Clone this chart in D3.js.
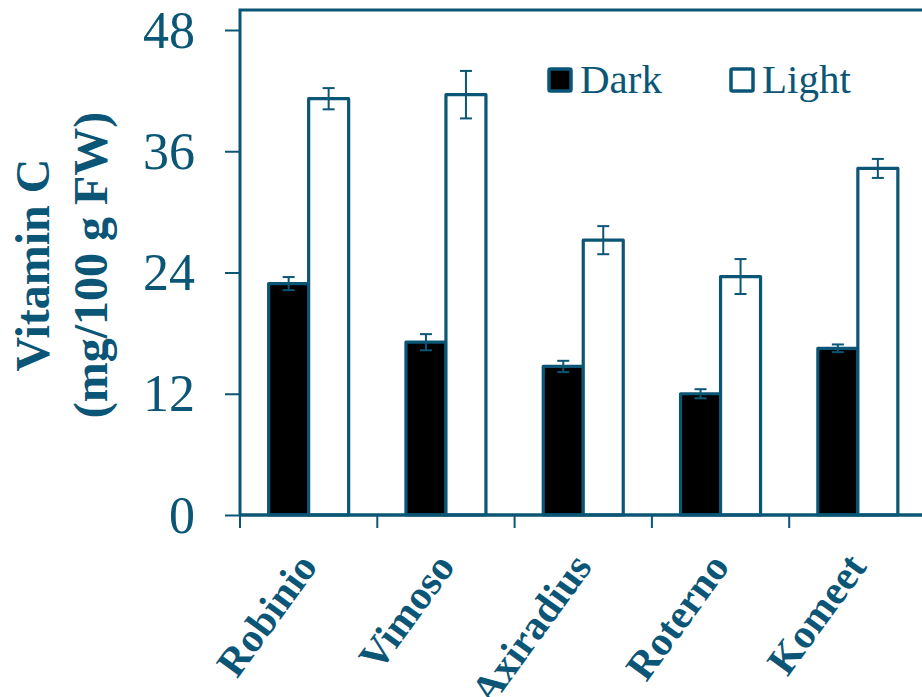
<!DOCTYPE html>
<html>
<head>
<meta charset="utf-8">
<script src="https://cdn.jsdelivr.net/npm/d3@7"></script>
<style>
  body { margin: 0; background: #fff; }
  svg { display: block; }
</style>
</head>
<body>
<div id="chart"></div>
<script>
var cultivars = ['Robinio', 'Vimoso', 'Axiradius', 'Roterno', 'Komeet'];
var seriesNames = ['Dark', 'Light'];
var darkValues = [22.9, 17.1, 14.7, 12.0, 16.5];
var darkErrors = [0.65, 0.8, 0.56, 0.45, 0.38];
var lightValues = [41.2, 41.6, 27.2, 23.6, 34.3];
var lightErrors = [1.05, 2.35, 1.39, 1.73, 0.94];
var yTicks = [0, 12, 24, 36, 48];

var teal = '#0b5676';
var fills = { Dark: '#000', Light: '#fff' };
var serif = '"Times New Roman", Times, "Liberation Serif", Tinos, "Nimbus Roman", serif';

var W = 922, H = 697;
var margin = { top: 10, left: 240 };
var plotRight = 926.5, plotBottom = 515;

var svg = d3.select('#chart')
  .append('svg')
  .attr('width', W)
  .attr('height', H);

// scales
var x = d3.scaleBand()
  .domain(cultivars)
  .range([margin.left, plotRight])
  .padding(0);

var groupW = 80;
var xs = d3.scaleBand()
  .domain(seriesNames)
  .range([0, groupW]);

var y = d3.scaleLinear()
  .domain([0, 48])
  .range([plotBottom, 30]);

// table built from the arrays
var rows = [];
cultivars.forEach(function (c, i) {
  rows.push({ cat: c, s: 'Dark', v: darkValues[i], e: darkErrors[i] });
  rows.push({ cat: c, s: 'Light', v: lightValues[i], e: lightErrors[i] });
});

function barX(d) {
  return x(d.cat) + x.bandwidth() / 2 - groupW / 2 + xs(d.s);
}

// bars
svg.append('g')
  .selectAll('rect')
  .data(rows)
  .enter()
  .append('rect')
  .attr('x', barX)
  .attr('y', function (d) { return y(d.v); })
  .attr('width', xs.bandwidth())
  .attr('height', function (d) { return y(0) - y(d.v); })
  .attr('fill', function (d) { return fills[d.s]; })
  .attr('stroke', teal)
  .attr('stroke-width', 3.2)
  .attr('stroke-linejoin', 'round');

// error bars
var eb = svg.append('g')
  .selectAll('g')
  .data(rows)
  .enter()
  .append('g')
  .attr('stroke', teal)
  .attr('stroke-width', 2);

eb.append('line')
  .attr('x1', function (d) { return barX(d) + xs.bandwidth() / 2; })
  .attr('x2', function (d) { return barX(d) + xs.bandwidth() / 2; })
  .attr('y1', function (d) { return y(d.v + d.e); })
  .attr('y2', function (d) { return y(d.v - d.e); });

[1, -1].forEach(function (sgn) {
  eb.append('line')
    .attr('x1', function (d) { return barX(d) + xs.bandwidth() / 2 - 6; })
    .attr('x2', function (d) { return barX(d) + xs.bandwidth() / 2 + 6; })
    .attr('y1', function (d) { return y(d.v + sgn * d.e); })
    .attr('y2', function (d) { return y(d.v + sgn * d.e); });
});

// y axis
var gy = svg.append('g')
  .attr('transform', 'translate(' + margin.left + ',0)')
  .call(d3.axisLeft(y).tickValues(yTicks).tickSize(15).tickSizeOuter(0).tickPadding(30));
gy.select('.domain').remove();
gy.selectAll('.tick line').attr('stroke', teal).attr('stroke-width', 2);
gy.selectAll('.tick text')
  .attr('fill', teal)
  .attr('font-family', serif)
  .attr('font-size', 52)
  .attr('dy', '0.33em');

// x axis ticks at category boundaries
var bounds = cultivars.map(function (c) { return x(c); }).concat([plotRight]);
svg.append('g')
  .selectAll('line')
  .data(bounds)
  .enter()
  .append('line')
  .attr('x1', function (d) { return d; })
  .attr('x2', function (d) { return d; })
  .attr('y1', plotBottom)
  .attr('y2', plotBottom + 13)
  .attr('stroke', teal)
  .attr('stroke-width', 2);

// frame lines
svg.append('path')
  .attr('d', 'M' + margin.left + ',' + plotBottom + 'V' + margin.top + 'H' + (plotRight + 10))
  .attr('fill', 'none')
  .attr('stroke', teal)
  .attr('stroke-width', 3);
svg.append('line')
  .attr('x1', margin.left).attr('x2', plotRight + 10)
  .attr('y1', plotBottom).attr('y2', plotBottom)
  .attr('stroke', teal)
  .attr('stroke-width', 3.5);

// category labels
svg.append('g')
  .selectAll('text')
  .data(cultivars)
  .enter()
  .append('text')
  .attr('transform', function (d) {
    return 'translate(' + (x(d) + x.bandwidth() / 2 + 10) + ',' + (plotBottom + 52) + ') rotate(-54)';
  })
  .attr('text-anchor', 'end')
  .attr('fill', teal)
  .attr('font-family', serif)
  .attr('font-weight', 'bold')
  .attr('font-size', 41)
  .text(function (d) { return d; });

// y title
var yt = svg.append('text')
  .attr('transform', 'translate(0,265) rotate(-90)')
  .attr('text-anchor', 'middle')
  .attr('fill', teal)
  .attr('font-family', serif)
  .attr('font-weight', 'bold')
  .attr('font-size', 48);
yt.append('tspan').attr('x', 0).attr('y', 49).text('Vitamin C');
yt.append('tspan').attr('x', 0).attr('y', 107).text('(mg/100 g FW)');

// legend
var legendX = [549, 731];
var lg = svg.append('g')
  .selectAll('g')
  .data(seriesNames)
  .enter()
  .append('g')
  .attr('transform', function (d, i) { return 'translate(' + legendX[i] + ',69)'; });
lg.append('rect')
  .attr('width', 22)
  .attr('height', 22)
  .attr('fill', function (d) { return fills[d]; })
  .attr('stroke', teal)
  .attr('stroke-width', 3.5)
  .attr('rx', 1.5);
lg.append('text')
  .attr('x', 31)
  .attr('y', 24)
  .attr('fill', teal)
  .attr('font-family', serif)
  .attr('font-size', 41)
  .text(function (d) { return d; });
</script>
</body>
</html>
